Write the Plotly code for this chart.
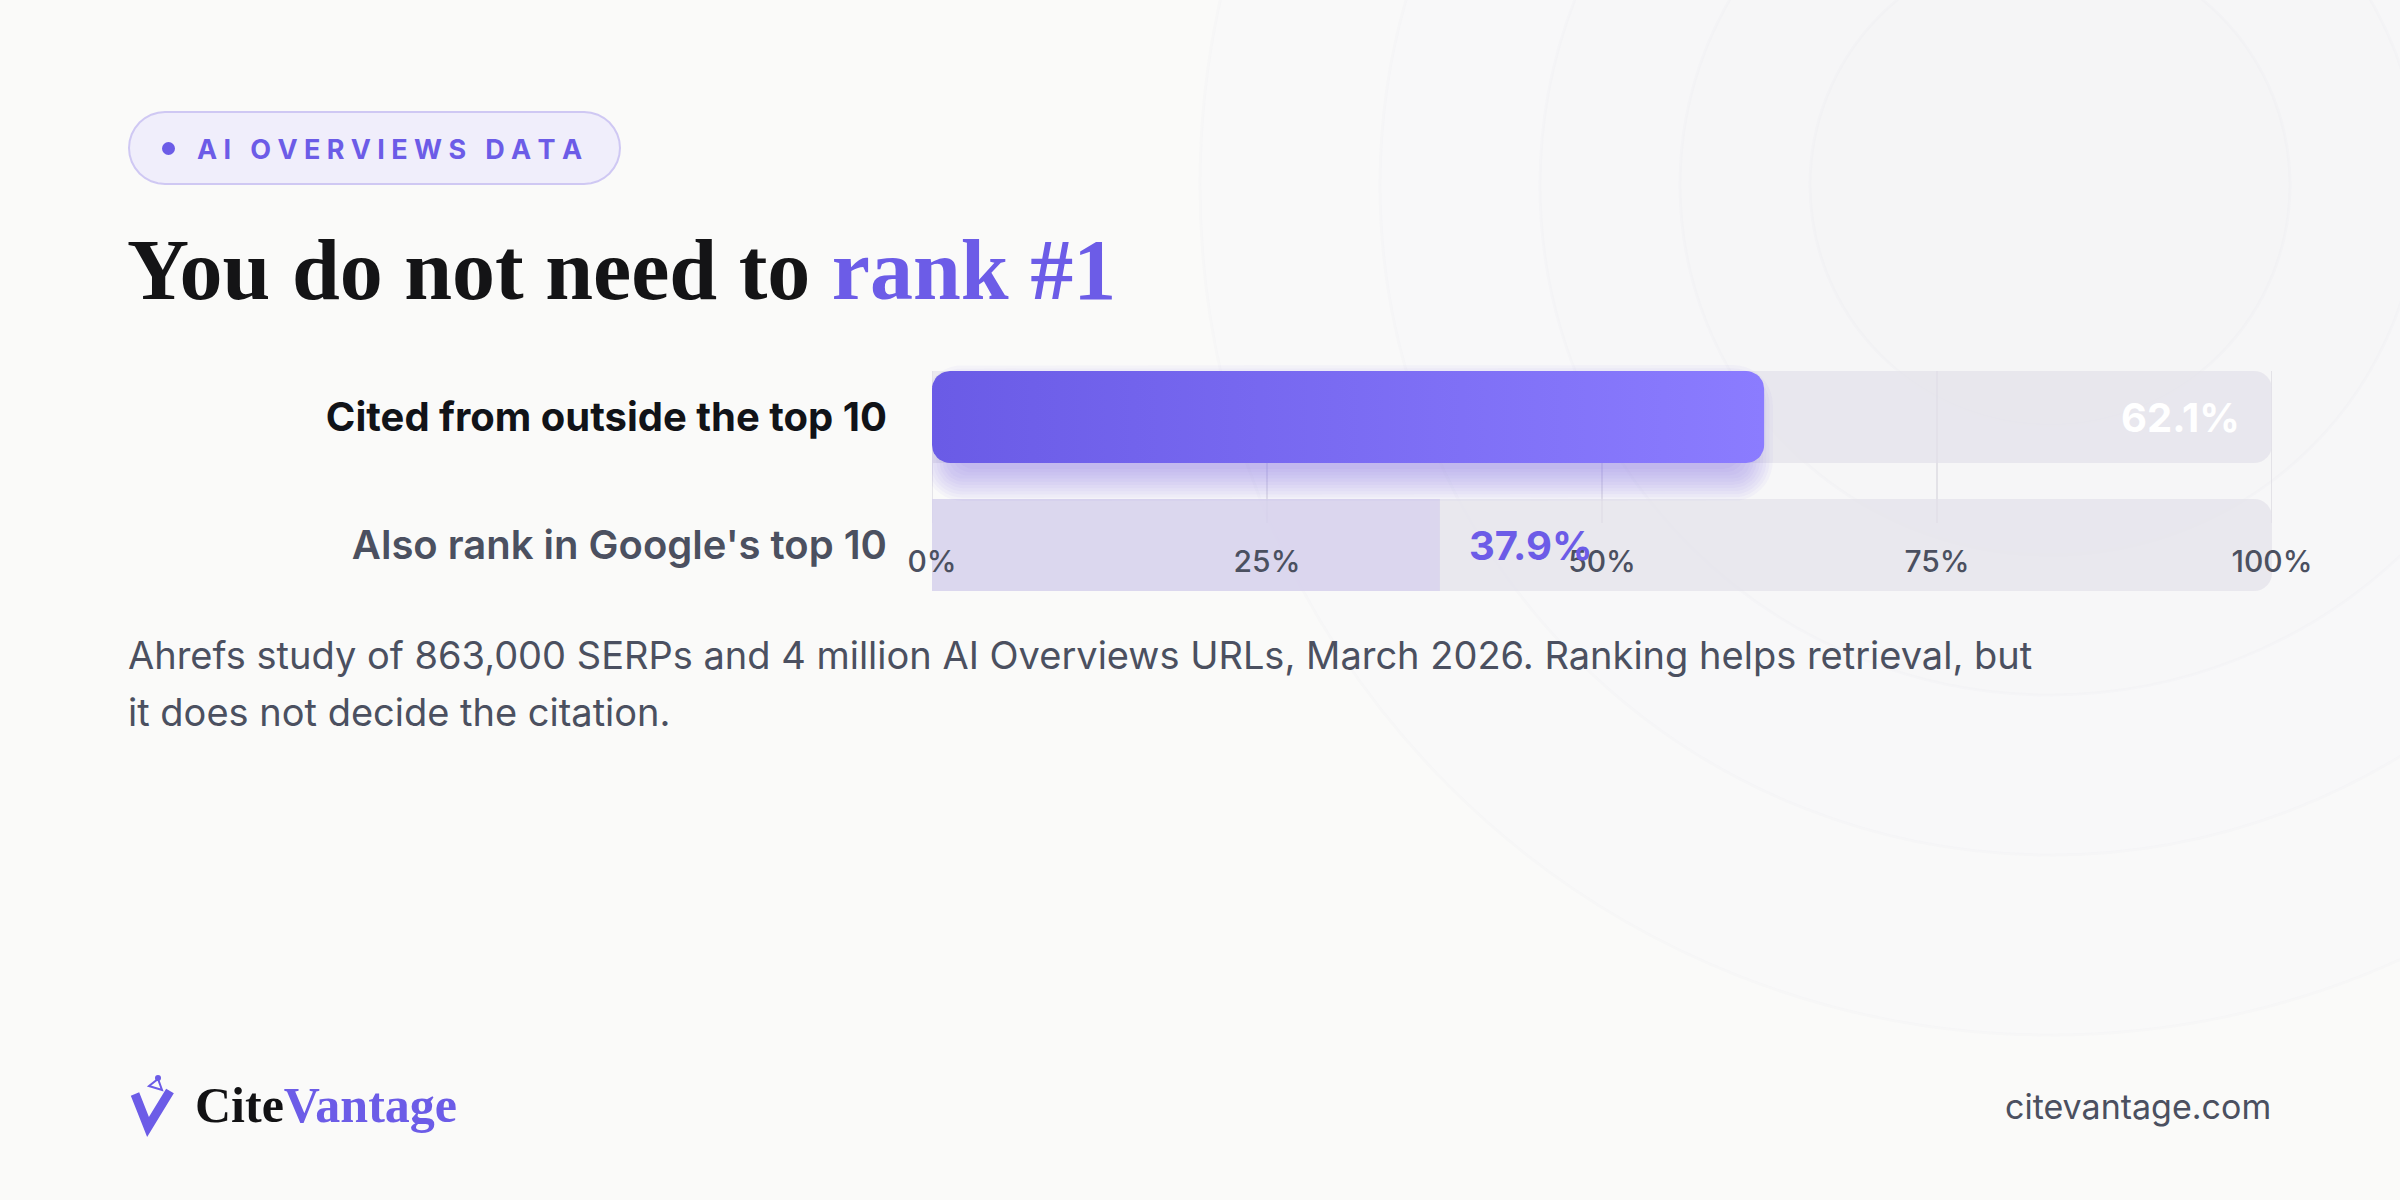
import math
import plotly.graph_objects as go

# ---------------- data ----------------
categories = ["Cited from outside the top 10", "Also rank in Google's top 10"]
values = [62.1, 37.9]
row_pos = [1, 0]
tick_vals = [0, 25, 50, 75, 100]
tick_text = ["0%", "25%", "50%", "75%", "100%"]
x_max = 100

# ---------------- geometry ----------------
W, H = 2400, 1200
L, R, T, B = 932, 128, 360, 600
PW = W - L - R
PH = H - T - B
ROW_PX = 128.0
y_hi = 1 + (417 - T) / ROW_PX
y_lo = 0 - (H - B - 545) / ROW_PX
BAR_W = 92 / ROW_PX
UX = PW / x_max
UY = ROW_PX
RAD = 18

PURPLE = "#6c5ce7"
TEXT_GRAY = "#4b5060"


def px2x(px):
    return (px - L) / PW


def py2y(py):
    return (H - B - py) / PH


def rounded_rect(x0, x1, y0, y1, rx, ry, n=10):
    xs, ys = [], []
    corners = [((x1 - rx, y1 - ry), 0), ((x0 + rx, y1 - ry), 90),
               ((x0 + rx, y0 + ry), 180), ((x1 - rx, y0 + ry), 270)]
    for (cx, cy), a0 in corners:
        for i in range(n + 1):
            a = math.radians(a0 + 90 * i / n)
            xs.append(cx + rx * math.cos(a))
            ys.append(cy + ry * math.sin(a))
    xs.append(xs[0])
    ys.append(ys[0])
    return xs, ys


def paper_poly(points):
    d = ""
    for i, (px, py) in enumerate(points):
        d += ("M" if i == 0 else "L") + f"{px2x(px):.5f},{py2y(py):.5f} "
    return d + "Z"


def capsule_pixels(x0, x1, y0, y1, n=16):
    r = (y1 - y0) / 2
    cy = (y0 + y1) / 2
    pts = []
    for i in range(n + 1):
        a = math.radians(-90 + 180 * i / n)
        pts.append((x1 - r + r * math.cos(a), cy + r * math.sin(a)))
    for i in range(n + 1):
        a = math.radians(90 + 180 * i / n)
        pts.append((x0 + r + r * math.cos(a), cy + r * math.sin(a)))
    return pts


fig = go.Figure()

# track bars (full 0-100)
fig.add_trace(go.Bar(
    x=[x_max] * len(row_pos), y=row_pos, orientation="h", width=BAR_W,
    marker=dict(color="rgba(226,225,233,0.70)", cornerradius=RAD, line=dict(width=0)),
    hoverinfo="skip", showlegend=False,
))
# secondary bar (light lavender)
fig.add_trace(go.Bar(
    x=[values[1]], y=[row_pos[1]], orientation="h", width=BAR_W,
    marker=dict(color="rgba(208,202,238,0.58)", cornerradius=RAD, line=dict(width=0)),
    hoverinfo="skip", showlegend=False,
))

# glow under the primary bar
v0 = values[0]
yc = row_pos[0]
hh = BAR_W / 2
for k in range(11):
    e = -10 + k * 3.2
    off = 16
    rr = RAD + max(e, 0)
    xs, ys = rounded_rect(0 - e / UX + 1.0, v0 + e / UX - 1.0,
                          yc - hh - (off + e) / UY, yc + hh - (off - e) / UY,
                          rr / UX, rr / UY)
    fig.add_trace(go.Scatter(
        x=xs, y=ys, mode="lines", fill="toself", line=dict(width=0),
        fillcolor="rgba(108,92,231,0.045)", hoverinfo="skip", showlegend=False,
    ))

# primary bar with gradient
xs, ys = rounded_rect(0, v0, yc - hh, yc + hh, RAD / UX, RAD / UY)
fig.add_trace(go.Scatter(
    x=xs, y=ys, mode="lines", fill="toself", line=dict(width=0),
    fillgradient=dict(type="horizontal", colorscale=[[0, "#6a5be6"], [1, "#8b7cff"]]),
    hoverinfo="skip", showlegend=False,
))

shapes = []
# background rings
cx, cy = 2050, 185
for r, a in [(240, 0.008), (370, 0.007), (510, 0.006), (670, 0.005), (850, 0.004)]:
    shapes.append(dict(type="circle", xref="paper", yref="paper", layer="below",
                       x0=px2x(cx - r), x1=px2x(cx + r), y0=py2y(cy + r), y1=py2y(cy - r),
                       fillcolor=f"rgba(110,100,160,{a})", line=dict(color="rgba(110,100,160,0.018)", width=3)))
# gridlines
for tv in tick_vals:
    shapes.append(dict(type="line", xref="x", yref="paper", layer="below",
                       x0=tv, x1=tv, y0=py2y(523), y1=py2y(371),
                       line=dict(color="#dcdbe2", width=1.5)))
# pill
shapes.append(dict(type="path", xref="paper", yref="paper",
                   path=paper_poly(capsule_pixels(129, 620, 112, 184)),
                   fillcolor="#f0eefb", line=dict(color="#cfc8f3", width=2)))
shapes.append(dict(type="circle", xref="paper", yref="paper",
                   x0=px2x(162), x1=px2x(175), y0=py2y(155), y1=py2y(142),
                   fillcolor=PURPLE, line=dict(width=0)))
# logo mark
shapes.append(dict(type="path", xref="paper", yref="paper",
                   path=f"M{px2x(135):.5f},{py2y(1094):.5f} L{px2x(148):.5f},{py2y(1127):.5f} L{px2x(170):.5f},{py2y(1091):.5f}",
                   line=dict(color=PURPLE, width=9)))
shapes.append(dict(type="path", xref="paper", yref="paper",
                   path=f"M{px2x(148):.5f},{py2y(1133):.5f} L{px2x(146):.5f},{py2y(1122):.5f} L{px2x(151):.5f},{py2y(1122):.5f} Z",
                   fillcolor=PURPLE, line=dict(color=PURPLE, width=1)))
shapes.append(dict(type="path", xref="paper", yref="paper",
                   path=paper_poly([(149, 1086), (158, 1079), (162, 1090)]),
                   fillcolor="rgba(0,0,0,0)", line=dict(color=PURPLE, width=2)))
shapes.append(dict(type="circle", xref="paper", yref="paper",
                   x0=px2x(155), x1=px2x(161), y0=py2y(1081), y1=py2y(1075),
                   fillcolor=PURPLE, line=dict(width=0)))

annotations = []
# pill text
pill_text = "\u2009\u200a".join(list("AI OVERVIEWS DATA"))
annotations.append(dict(xref="paper", yref="paper", x=px2x(195), y=py2y(149),
                        xanchor="left", yanchor="middle", showarrow=False, text=pill_text,
                        font=dict(family="Inter", size=27, color=PURPLE, weight=700)))
# title
annotations.append(dict(xref="paper", yref="paper", x=px2x(125), y=py2y(270),
                        xanchor="left", yanchor="middle", showarrow=False,
                        text=f'You do not need to <span style="color:{PURPLE}">rank #1</span>',
                        font=dict(family="Liberation Serif", size=86, color="#141416", weight=700)))
# subtitle
annotations.append(dict(xref="paper", yref="paper", x=px2x(126), y=py2y(655),
                        xanchor="left", yanchor="middle", showarrow=False,
                        text="Ahrefs study of 863,000 SERPs and 4 million AI Overviews URLs, March 2026. Ranking helps retrieval, but",
                        font=dict(family="Inter", size=38, color=TEXT_GRAY)))
annotations.append(dict(xref="paper", yref="paper", x=px2x(126), y=py2y(712),
                        xanchor="left", yanchor="middle", showarrow=False,
                        text="it does not decide the citation.",
                        font=dict(family="Inter", size=38, color=TEXT_GRAY)))
# value labels
annotations.append(dict(xref="x", yref="y", x=x_max, y=row_pos[0], xanchor="right", yanchor="middle",
                        xshift=-30, showarrow=False, text=f"{values[0]}%",
                        font=dict(family="Inter", size=40, color="#ffffff", weight=700)))
annotations.append(dict(xref="x", yref="y", x=values[1], y=row_pos[1], xanchor="left", yanchor="middle",
                        xshift=27, showarrow=False, text=f"{values[1]}%",
                        font=dict(family="Inter", size=40, color=PURPLE, weight=700)))
# footer
annotations.append(dict(xref="paper", yref="paper", x=px2x(193), y=py2y(1105),
                        xanchor="left", yanchor="middle", showarrow=False,
                        text=f'<span style="color:#121214">Cite</span><span style="color:{PURPLE}">Vantage</span>',
                        font=dict(family="Liberation Serif", size=50, weight=700)))
annotations.append(dict(xref="paper", yref="paper", x=px2x(2273), y=py2y(1106),
                        xanchor="right", yanchor="middle", showarrow=False,
                        text="citevantage.com",
                        font=dict(family="Inter", size=34, color=TEXT_GRAY)))

label_text = [f'<b><span style="color:#111318">{categories[0]}</span></b>', categories[1]]

fig.update_layout(
    width=W, height=H, autosize=False,
    margin=dict(l=L, r=R, t=T, b=B, pad=0),
    paper_bgcolor="#fafaf9", plot_bgcolor="rgba(0,0,0,0)",
    barmode="overlay", showlegend=False,
    shapes=shapes, annotations=annotations,
    xaxis=dict(range=[0, x_max], anchor="free", position=py2y(541),
               tickvals=tick_vals, ticktext=tick_text, ticks="",
               showgrid=False, zeroline=False, showline=False,
               tickfont=dict(family="Inter", size=30, color=TEXT_GRAY, weight=500),
               fixedrange=True),
    yaxis=dict(range=[y_lo, y_hi], tickvals=row_pos, ticktext=label_text, ticks="",
               ticklabelstandoff=44, showgrid=False, zeroline=False, showline=False,
               tickfont=dict(family="Inter", size=40, color=TEXT_GRAY, weight=600),
               fixedrange=True),
)

fig.write_html("out.html", config={"displayModeBar": False},
               post_script="document.body.style.margin='0';document.body.style.background='#fafaf9';")
